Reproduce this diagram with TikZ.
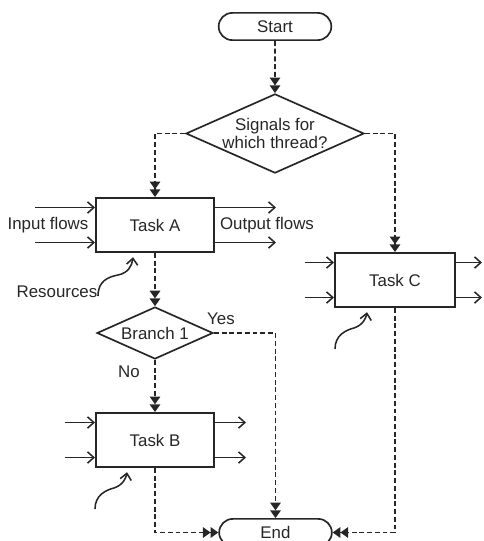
\documentclass[tikz,border=0pt]{standalone}
\usepackage{fontspec}
\setmainfont{Liberation Sans}
\usetikzlibrary{shapes.geometric,shapes.misc,arrows.meta}

\tikzset{
  task/.style={draw, line width=1.4pt, minimum width=2.95cm, minimum height=1.35cm},
  term/.style={draw, rounded rectangle, line width=1.2pt, minimum width=3.05cm, minimum height=0.68cm},
  decision/.style={draw, diamond, line width=1.2pt, inner sep=0pt, align=center},
  thread/.style={line width=1.1pt, dash pattern=on 3.5pt off 2pt,
    -{Triangle[length=5.5pt,width=7.5pt]Triangle[length=5.5pt,width=7.5pt]}},
  flow/.style={line width=1.1pt, -{Straight Barb[length=4.5pt,width=8pt]}},
}

\begin{document}
\begin{tikzpicture}[x=0.025cm,y=-0.025cm,color=black!85,font=\fontsize{12}{13}\selectfont]
\useasboundingbox (0,0) rectangle (483,541);

\node[term] (start) at (275,26.5) {Start};
\node[decision, minimum width=4.45cm, minimum height=1.98cm, aspect=2.25] (signals) at (275,133.5) {Signals for\\which thread?};
\node[task] (taskA) at (155,225) {Task A};
\node[decision, minimum width=2.9cm, minimum height=1.3cm, aspect=2.2] (branch) at (155,333) {Branch 1};
\node[task] (taskB) at (155,440) {Task B};
\node[task, minimum width=3cm] (taskC) at (395,280) {Task C};
\node[term] (end) at (275.5,532.5) {End};

% labels
\node (inlbl) at (48,225) {Input flows};
\node (outlbl) at (267,225) {Output flows};
\node (reslbl) at (57,292) {Resources};
\node (yes) at (221,319) {Yes};
\node (no) at (129,372) {No};

% threads
\draw[thread] (start) -- (signals);
\draw[thread] (signals.west) -| (taskA);
\draw[thread] (signals.east) -| (taskC);
\draw[thread] (taskA) -- (branch);
\draw[thread] (branch) -- (taskB);
\draw[thread] (branch.east) -| (end);
\draw[thread] (taskB) |- (end);
\draw[thread] (taskC) |- (end);

% flows in and out
\foreach \n/\dy in {1/-17.5,2/17.5}{
  \coordinate (inA\n) at (35,225+\dy);
  \coordinate (outA\n) at (276,225+\dy);
  \coordinate (inB\n) at (65,440+\dy);
  \coordinate (outB\n) at (246,440+\dy);
  \coordinate (inC\n) at (305,280+\dy);
  \coordinate (outC\n) at (482,280+\dy);
  \draw[flow] (inA\n) -- (inA\n -| taskA.west);
  \draw[flow] (outA\n -| taskA.east) -- (outA\n);
  \draw[flow] (inB\n) -- (inB\n -| taskB.west);
  \draw[flow] (outB\n -| taskB.east) -- (outB\n);
  \draw[flow] (inC\n) -- (inC\n -| taskC.west);
  \draw[flow] (outC\n -| taskC.east) -- (outC\n);
}

% resources
\coordinate (resA) at (98,296);
\coordinate (resB) at (95,509);
\coordinate (resC) at (335,349);
\draw[flow] (resA) .. controls (98,281) and (108,277) .. (118,275)
  .. controls (128,273) and (132,266) .. ([xshift=-0.55cm,yshift=-3pt]taskA.south);
\draw[flow] (resB) .. controls (95,495) and (106,490) .. (114,488)
  .. controls (123,485) and (126,478) .. ([xshift=-0.7cm,yshift=-3pt]taskB.south);
\draw[flow] (resC) .. controls (335,335) and (346,330) .. (354,328)
  .. controls (363,325) and (366,318) .. ([xshift=-0.7cm,yshift=-3pt]taskC.south);
\end{tikzpicture}
\end{document}
